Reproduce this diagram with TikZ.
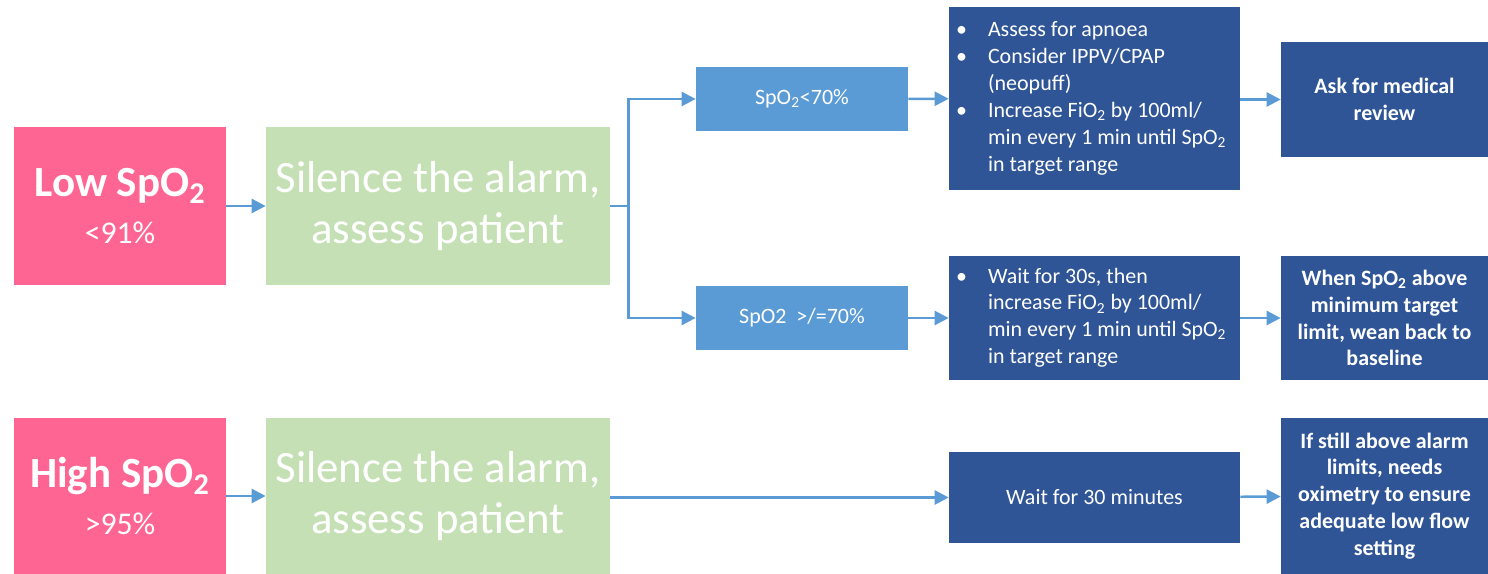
\documentclass[tikz,border=0pt]{standalone}
\usepackage{fontspec}
\setmainfont{Carlito}
\usetikzlibrary{arrows.meta}
\definecolor{alarmpink}{HTML}{FF6592}
\definecolor{silencegreen}{HTML}{C5E0B4}
\definecolor{levelblue}{HTML}{5B9BD5}
\definecolor{actionblue}{HTML}{2F5597}
\newcommand{\spo}{SpO\textsubscript{2}}
\newcommand{\fio}{FiO\textsubscript{2}}
\begin{document}
\begin{tikzpicture}[x=0.02cm,y=-0.02cm,
    box/.style={inner sep=0pt,text=white,align=center},
    alarm/.style={box,fill=alarmpink,minimum width=4.24cm,
      font=\fontsize{24.5}{29.5}\selectfont},
    silence/.style={box,fill=silencegreen,minimum width=6.88cm,
      font=\fontsize{25.5}{29.5}\selectfont},
    level/.style={box,fill=levelblue,minimum width=4.24cm,minimum height=1.28cm,
      font=\fontsize{12.5}{15}\selectfont},
    action/.style={box,fill=actionblue,minimum width=5.82cm,
      font=\fontsize{12.5}{15.3}\selectfont},
    result/.style={box,fill=actionblue,minimum width=4.14cm,
      font=\fontsize{12.5}{15.3}\selectfont\bfseries},
    flow/.style={levelblue,line width=1.4pt,-{Triangle[length=8pt,width=8pt]}}]
  \useasboundingbox (0,0) rectangle (1488,574);
  % low SpO2 branch
  \node[alarm,minimum height=3.16cm] (low) at (120,206)
    {\bfseries Low \spo\\[-3pt]
     \fontsize{18}{22}\selectfont <91\%};
  \node[silence,minimum height=3.16cm] (silencelow) at (438,206)
    {Silence the alarm,\\assess patient};
  \node[level] (below) at (802,99) {\spo<70\%};
  \node[level] (above) at (802,318) {SpO2~~>/=70\%};
  \node[action,minimum height=3.66cm] (apnoea) at (1094.5,98.5)
    {\begin{tabular}{@{}p{0.64cm}@{}p{4.9cm}@{}}
      \textbullet & Assess for apnoea\\
      \textbullet & Consider IPPV/CPAP\\
      & (neopuff)\\
      \textbullet & Increase \fio{} by 100ml/\\
      & min every 1 min until \spo\\
      & in target range
    \end{tabular}};
  \node[action,minimum height=2.48cm] (wait) at (1094.5,318)
    {\begin{tabular}{@{}p{0.64cm}@{}p{4.9cm}@{}}
      \textbullet & Wait for 30s, then\\
      & increase \fio{} by 100ml/\\
      & min every 1 min until \spo\\
      & in target range
    \end{tabular}};
  \node[result,minimum height=2.3cm] (review) at (1384.5,99.5)
    {Ask for medical\\review};
  \node[result,minimum height=2.48cm] (wean) at (1384.5,318)
    {When \spo{} above\\minimum target\\limit, wean back to\\baseline};
  % high SpO2 branch
  \node[alarm,minimum height=3.12cm] (high) at (120,496)
    {\bfseries High \spo\\[-3pt]
     \fontsize{18}{22}\selectfont >95\%};
  \node[silence,minimum height=3.12cm] (silencehigh) at (438,496)
    {Silence the alarm,\\assess patient};
  \node[action,minimum height=1.82cm] (thirty) at (1094.5,497.5)
    {Wait for 30 minutes};
  \node[result,minimum height=3.12cm] (oximetry) at (1384.5,496)
    {If still above alarm\\limits, needs\\oximetry to ensure\\adequate low flow\\setting};
  % connectors
  \draw[flow] (low) -- (silencelow);
  \draw[flow] (silencelow.east) -- ++(18,0) coordinate (split) |- (below.west);
  \draw[flow] (split) |- (above.west);
  \draw[flow] (below) -- (apnoea);
  \draw[flow] (above) -- (wait);
  \draw[flow] (apnoea.east |- review) -- (review);
  \draw[flow] (wait) -- (wean);
  \draw[flow] (high) -- (silencehigh);
  \draw[flow] (silencehigh.east |- thirty) -- (thirty);
  \draw[flow] (thirty) -- (oximetry);
\end{tikzpicture}
\end{document}
